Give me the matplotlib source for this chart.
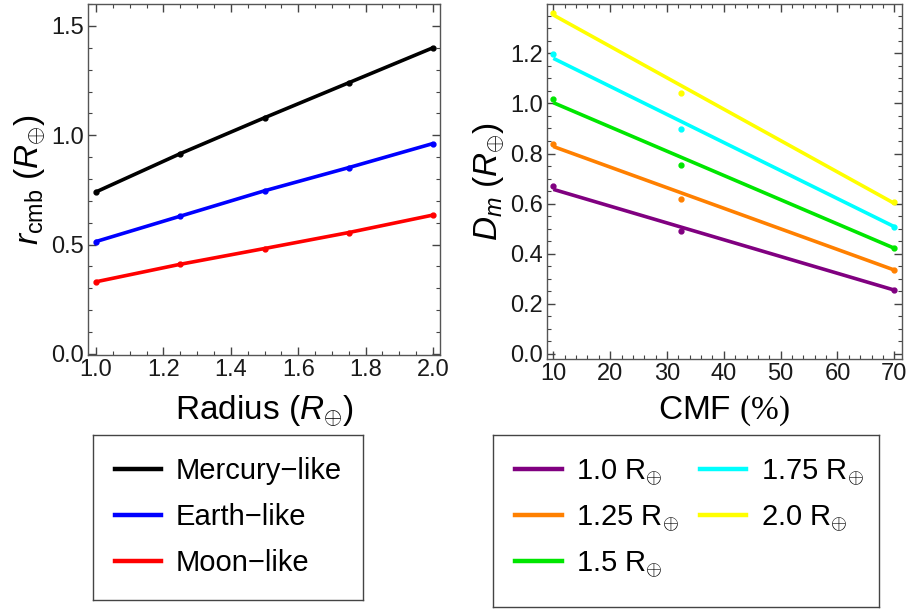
import matplotlib
matplotlib.use('Agg')
import numpy as np
import matplotlib.pyplot as plt
from matplotlib.ticker import MultipleLocator, FormatStrFormatter
from matplotlib.lines import Line2D

# left panel: core-mantle boundary radius vs planet radius
radius = [1.0, 1.25, 1.5, 1.75, 2.0]
rcmb_mercury = [0.741, 0.916, 1.08, 1.24, 1.40]
rcmb_earth = [0.514, 0.63, 0.746, 0.852, 0.962]
rcmb_moon = [0.33, 0.41, 0.482, 0.555, 0.635]
left_names = ['Mercury\u2212like', 'Earth\u2212like', 'Moon\u2212like']
left_colors = ['black', 'blue', 'red']

# right panel: mantle depth vs CMF
cmf = [10, 32.5, 70]
dm_10 = [0.67, 0.492, 0.255]
dm_125 = [0.838, 0.617, 0.335]
dm_15 = [1.017, 0.754, 0.422]
dm_175 = [1.196, 0.897, 0.508]
dm_20 = [1.362, 1.043, 0.608]
# fitted lines, read at the ends
fit_cmf = [10, 70]
fit_10 = [0.657, 0.255]
fit_125 = [0.828, 0.335]
fit_15 = [1.003, 0.422]
fit_175 = [1.180, 0.508]
fit_20 = [1.353, 0.601]
right_names = [r'1.0 R$_{\oplus}$', r'1.25 R$_{\oplus}$', r'1.5 R$_{\oplus}$',
               r'1.75 R$_{\oplus}$', r'2.0 R$_{\oplus}$']
right_colors = ['#800080', '#ff8000', '#00e600', '#00ffff', '#ffff00']

plt.rcParams['font.family'] = ['Liberation Sans', 'DejaVu Sans']
plt.rcParams['mathtext.fontset'] = 'custom'
plt.rcParams['mathtext.rm'] = 'Liberation Sans'
plt.rcParams['mathtext.it'] = 'Liberation Sans:italic'
plt.rcParams['mathtext.sf'] = 'Liberation Serif'

fig = plt.figure(figsize=(9.11, 6.10), dpi=100)
ax1 = fig.add_axes([0.0966, 0.418, 0.3864, 0.5754])
ax2 = fig.add_axes([0.6001, 0.4115, 0.3897, 0.582])

for ys, c in zip([rcmb_mercury, rcmb_earth, rcmb_moon], left_colors):
    ax1.plot(radius, ys, color=c, lw=2.6, solid_capstyle='butt')
    ax1.plot(radius, ys, 'o', color=c, ms=3.5)

ax1.set_xlim(0.976, 2.021)
ax1.set_ylim(-0.005, 1.6)
ax1.xaxis.set_major_locator(MultipleLocator(0.2))
ax1.xaxis.set_minor_locator(MultipleLocator(0.05))
ax1.yaxis.set_major_locator(MultipleLocator(0.5))
ax1.yaxis.set_minor_locator(MultipleLocator(0.1))
ax1.xaxis.set_major_formatter(FormatStrFormatter('%.1f'))
ax1.yaxis.set_major_formatter(FormatStrFormatter('%.1f'))
ax1.set_xlabel(r'Radius $(R_{\oplus})$', fontsize=24, labelpad=9)
ax1.set_ylabel(r'$r_{\rm cmb}$ $(R_{\oplus})$', fontsize=24, labelpad=2)

dm_all = [dm_10, dm_125, dm_15, dm_175, dm_20]
fit_all = [fit_10, fit_125, fit_15, fit_175, fit_20]
for ys, fs, c in zip(dm_all, fit_all, right_colors):
    ax2.plot(fit_cmf, fs, color=c, lw=2.6, solid_capstyle='butt')
    ax2.plot(cmf, ys, 'o', color=c, ms=3.5)

ax2.set_xlim(8.83, 71.3)
ax2.set_ylim(-0.02, 1.397)
ax2.xaxis.set_major_locator(MultipleLocator(10))
ax2.xaxis.set_minor_locator(MultipleLocator(2))
ax2.yaxis.set_major_locator(MultipleLocator(0.2))
ax2.yaxis.set_minor_locator(MultipleLocator(0.05))
ax2.yaxis.set_major_formatter(FormatStrFormatter('%.1f'))
ax2.set_xlabel(r'CMF $\mathsf{(\%)}$', fontsize=24, labelpad=6)
ax2.set_ylabel(r'$D_m$ $(R_{\oplus})$', fontsize=24, labelpad=2)

for ax in (ax1, ax2):
    ax.tick_params(which='both', direction='in', top=True, right=True,
                   colors='#444444', labelcolor='#1a1a1a', labelsize=17, pad=3)
    ax.tick_params(which='major', length=6, width=1)
    ax.tick_params(which='minor', length=3, width=0.8)
    for s in ax.spines.values():
        s.set_color('#555555')
        s.set_linewidth(1)

# legend boxes
leg1_ax = fig.add_axes([92.7 / 911, 1 - 600 / 610, 270 / 911, 165 / 610])
leg2_ax = fig.add_axes([493.3 / 911, 1 - 606.7 / 610, 386 / 911, 171.7 / 610])
for lax in (leg1_ax, leg2_ax):
    lax.set_xticks([])
    lax.set_yticks([])
    for s in lax.spines.values():
        s.set_color('#444444')
        s.set_linewidth(1)

h1 = [Line2D([], [], color=c, lw=3.2) for c in left_colors]
leg1_ax.legend(h1, left_names, loc='upper left', bbox_to_anchor=(0.0, 1.0),
               frameon=False, fontsize=21, handlelength=1.6, handletextpad=0.5,
               labelspacing=0.62, borderaxespad=0.35)

h2 = [Line2D([], [], color=c, lw=3.2) for c in right_colors]
leg2_ax.legend(h2, right_names, loc='upper left', bbox_to_anchor=(0.0, 1.0), ncol=2,
               frameon=False, fontsize=21, handlelength=1.6, handletextpad=0.5,
               labelspacing=0.52, columnspacing=0.7, borderaxespad=0.35)

fig.savefig('out.png', dpi=100)
